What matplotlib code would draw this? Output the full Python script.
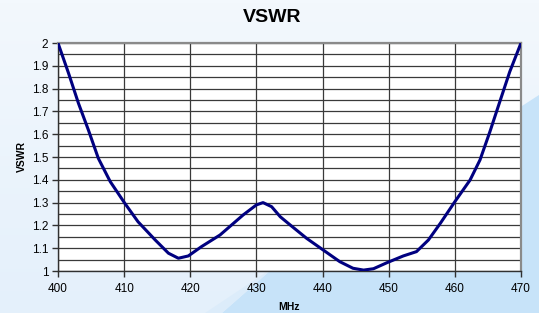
import numpy as np
import matplotlib.pyplot as plt
from matplotlib.patches import Polygon
from matplotlib.colors import LinearSegmentedColormap

plt.rcParams['font.family'] = ['Liberation Sans', 'DejaVu Sans']

# --- data ---
freq = [400.0, 401.6, 403.1, 404.6, 406.1, 407.9, 410.1, 412.1, 414.7, 416.7,
        418.2, 419.7, 421.7, 424.5, 428.0, 430.0, 431.0, 432.3, 433.6, 435.1,
        437.6, 440.1, 442.6, 444.6, 446.2, 447.7, 449.7, 452.2, 454.2, 456.0,
        457.8, 460.0, 462.3, 463.8, 465.3, 466.8, 468.3, 470.0]
vswr = [2.0, 1.867, 1.735, 1.618, 1.494, 1.392, 1.297, 1.216, 1.136, 1.078,
        1.056, 1.066, 1.107, 1.158, 1.246, 1.29, 1.30, 1.282, 1.238, 1.202,
        1.143, 1.092, 1.041, 1.012, 1.004, 1.010, 1.036, 1.066, 1.085, 1.136,
        1.209, 1.304, 1.399, 1.487, 1.611, 1.743, 1.874, 2.0]
xticks = [400, 410, 420, 430, 440, 450, 460, 470]
yticks = [1, 1.1, 1.2, 1.3, 1.4, 1.5, 1.6, 1.7, 1.8, 1.9, 2]
ytick_labels = ['1', '1.1', '1.2', '1.3', '1.4', '1.5', '1.6', '1.7', '1.8', '1.9', '2']

W, H = 539, 313
fig = plt.figure(figsize=(W / 100, H / 100), dpi=100)

# background
bg = fig.add_axes([0, 0, 1, 1], zorder=-10)
grad = np.linspace(0, 1, 100)[:, None]
bg.imshow(grad, cmap=LinearSegmentedColormap.from_list('bg', ['#f3f8fd', '#e4f0fb']),
          aspect='auto', extent=[0, W, H, 0])
bg.add_patch(Polygon([(222, 313), (280, 262), (400, 185), (539, 95), (539, 313)],
                     closed=True, facecolor='#c7e3f9', edgecolor='none'))
bg.add_patch(Polygon([(205, 313), (222, 313), (280, 262), (262, 275)],
                     closed=True, facecolor='#dcecfa', edgecolor='none'))
bg.set_xlim(0, W)
bg.set_ylim(H, 0)
bg.axis('off')

ax = fig.add_axes([58 / W, 1 - 271 / H, (521 - 58) / W, (271 - 43) / H])
ax.set_facecolor('white')
ax.plot(freq, vswr, color='#000080', lw=2.2, zorder=3, solid_joinstyle='round')

ax.set_xlim(400, 470)
ax.set_ylim(1, 2)
ax.set_xticks(xticks)
ax.set_xticklabels([str(x) for x in xticks])
ax.set_yticks(yticks)
ax.set_yticklabels(ytick_labels)
ax.set_yticks(np.arange(1.05, 2.0, 0.1), minor=True)
ax.tick_params(which='major', length=4, width=1, color='#303030',
               labelsize=8.5, pad=3)
ax.tick_params(which='minor', length=0)
ax.tick_params(axis='x', pad=5)
ax.grid(True, which='both', color='#3a3a3a', lw=0.9)
for s in ax.spines.values():
    s.set_color('#8a8a8a')
    s.set_linewidth(1.6)
ax.spines['bottom'].set_color('#303030')
ax.spines['bottom'].set_linewidth(1.0)
ax.spines['left'].set_color('#303030')
ax.spines['left'].set_linewidth(1.0)

fig.text(272 / W, 1 - 17 / H, 'VSWR', ha='center', va='center',
         fontsize=14, fontweight='bold')
fig.text(289 / W, 1 - 307 / H, 'MHz', ha='center', va='center',
         fontsize=7.5, fontweight='bold')
fig.text(22 / W, 1 - 157 / H, 'VSWR', ha='center', va='center',
         fontsize=7.5, fontweight='bold', rotation=90)

fig.savefig('out.png', dpi=100)
